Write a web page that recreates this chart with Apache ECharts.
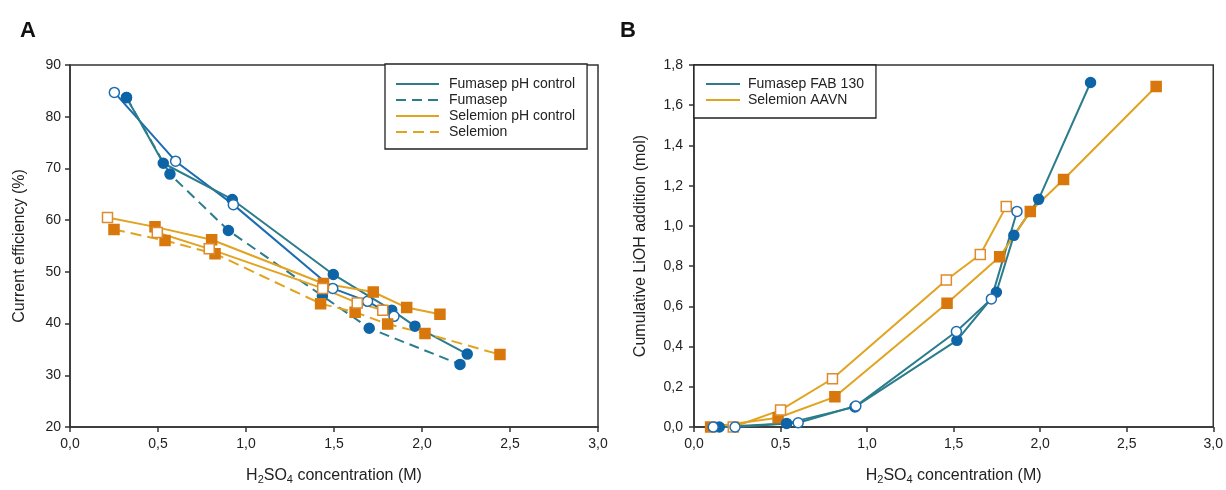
<!DOCTYPE html>
<html>
<head>
<meta charset="utf-8">
<script src="https://cdn.jsdelivr.net/npm/echarts@6/dist/echarts.min.js"></script>
<style>
html,body{margin:0;padding:0;background:#fff;}
#c{width:1226px;height:490px;}
</style>
</head>
<body>
<div id="c"></div>
<script>
// ---------- Panel A: current efficiency (%) vs H2SO4 concentration (M) ----------
const aFumPhOpen = [[0.252,84.7],[0.60,71.4],[0.928,63.0],[1.493,46.8],[1.691,44.3],[1.841,41.4]];
const aFumPh     = [[0.321,83.7],[0.530,71.0],[0.922,64.0],[1.496,49.5],[1.828,42.6],[1.960,39.5],[2.257,34.1]];
const aFum       = [[0.321,83.7],[0.568,68.9],[0.900,58.0],[1.434,45.35],[1.700,39.1],[2.216,32.1]];
const aSelPh     = [[0.213,60.5],[0.483,58.7],[0.805,56.2],[1.440,47.75],[1.723,46.1],[1.913,43.1],[2.102,41.8]];
const aSelPhOpenIdx = [0]; // points of aSelPh drawn as open squares
const aSelPhOpen = [[0.496,57.6],[0.791,54.45],[1.436,46.8],[1.632,44.0],[1.777,42.6]];
const aSel       = [[0.25,58.2],[0.54,56.05],[0.824,53.5],[1.424,43.85],[1.62,42.2],[1.805,39.9],[2.017,38.1],[2.443,34.0]];

// ---------- Panel B: cumulative LiOH addition (mol) vs H2SO4 concentration (M) ----------
const bFumOpen = [[0.111,0],[0.237,0],[0.602,0.021],[0.935,0.104],[1.516,0.475],[1.718,0.637],[1.866,1.072]];
const bFum     = [[0.146,0],[0.535,0.018],[0.93,0.10],[1.519,0.431],[1.747,0.67],[1.848,0.953],[1.991,1.132],[2.291,1.713]];
const bSelOpen = [[0.227,0],[0.50,0.084],[0.80,0.24],[1.458,0.731],[1.654,0.858],[1.804,1.097]];
const bSel     = [[0.096,0],[0.486,0.046],[0.814,0.15],[1.462,0.615],[1.766,0.846],[1.943,1.072],[2.135,1.231],[2.67,1.693]];

// axis ranges / ticks
const xRange = [0, 3, 0.5];
const aYRange = [20, 90, 10];
const bYRange = [0, 1.8, 0.2];

const legendA = ['Fumasep pH control','Fumasep','Selemion pH control','Selemion'];
const legendB = ['Fumasep FAB 130','Selemion AAVN'];

const FONT = 'Liberation Sans, Arial, sans-serif';
const TEAL = '#2b7c8c', BLUE = '#1d6cb2', DOT = '#0d64a7';
const GOLD = '#e2a320', ORANGE = '#d8780c', OBORDER = '#de8a2e';
const comma = v => v.toFixed(1).replace('.', ',');

function lineS(name, data, color, dash, gi) {
  return {type:'line', name:name, data:data, xAxisIndex:gi, yAxisIndex:gi, symbol:'none',
    lineStyle:{color:color, width:2, type:dash || 'solid'}, itemStyle:{color:color},
    z:2, silent:true, animation:false};
}
function markS(data, shape, fill, border, gi) {
  return {type:'scatter', data:data, xAxisIndex:gi, yAxisIndex:gi, symbol:shape, symbolSize:10,
    itemStyle:{color:fill, borderColor:border, borderWidth:1.5, opacity:1}, z:4, silent:true, animation:false};
}
function xAx(gi) {
  return {type:'value', gridIndex:gi, min:xRange[0], max:xRange[1], interval:xRange[2],
    axisLine:{lineStyle:{color:'#333', width:1.5}}, axisTick:{inside:false, length:5, lineStyle:{color:'#333', width:1.5}},
    axisLabel:{color:'#222', fontSize:14, fontFamily:FONT, margin:10, formatter:comma},
    splitLine:{show:false},
    name:'{n|H}{s|2}{n|SO}{s|4}{n| concentration (M)}', nameLocation:'middle', nameGap:39,
    nameTextStyle:{fontFamily:FONT, rich:{n:{fontSize:16, color:'#222', fontFamily:FONT},
      s:{fontSize:11, color:'#222', fontFamily:FONT, padding:[8,0,0,0]}}}};
}
function yAx(gi, r, name, fmt, gap, margin) {
  return {type:'value', gridIndex:gi, min:r[0], max:r[1], interval:r[2],
    axisLine:{show:true, lineStyle:{color:'#333', width:1.5}}, axisTick:{show:true, inside:false, length:5, lineStyle:{color:'#333', width:1.5}},
    axisLabel:{color:'#222', fontSize:14, fontFamily:FONT, margin:margin, formatter:fmt},
    splitLine:{show:false},
    name:name, nameLocation:'middle', nameGap:gap, nameRotate:90,
    nameTextStyle:{fontSize:16, color:'#222', fontFamily:FONT}};
}

const series = [
  // Panel A lines
  lineS('', aFumPhOpen, BLUE, 'solid', 0),
  lineS(legendA[0], aFumPh, TEAL, 'solid', 0),
  lineS(legendA[1], aFum, TEAL, [10,6], 0),
  lineS(legendA[2], aSelPh, GOLD, 'solid', 0),
  lineS('', aSelPhOpen, GOLD, 'solid', 0),
  lineS(legendA[3], aSel, GOLD, [11,6], 0),
  // Panel A markers
  markS(aFum, 'circle', DOT, DOT, 0),
  markS(aFumPh, 'circle', DOT, DOT, 0),
  markS(aFumPhOpen, 'circle', '#fff', BLUE, 0),
  markS(aSel, 'rect', ORANGE, ORANGE, 0),
  markS(aSelPh.filter((p,i) => aSelPhOpenIdx.indexOf(i) < 0), 'rect', ORANGE, ORANGE, 0),
  markS(aSelPh.filter((p,i) => aSelPhOpenIdx.indexOf(i) >= 0).concat(aSelPhOpen), 'rect', '#fff', OBORDER, 0),
  // Panel B lines
  lineS(legendB[0], bFum, TEAL, 'solid', 1),
  lineS('', bFumOpen, TEAL, 'solid', 1),
  lineS(legendB[1], bSel, GOLD, 'solid', 1),
  lineS('', bSelOpen, GOLD, 'solid', 1),
  // Panel B markers
  markS(bSel, 'rect', ORANGE, ORANGE, 1),
  markS(bSelOpen, 'rect', '#fff', OBORDER, 1),
  markS(bFum, 'circle', DOT, DOT, 1),
  markS(bFumOpen, 'circle', '#fff', BLUE, 1)
];

const chart = echarts.init(document.getElementById('c'), null, {renderer:'canvas'});
chart.setOption({
  animation:false,
  backgroundColor:'#fff',
  textStyle:{fontFamily:FONT},
  grid:[
    {left:70, right:628, top:65, bottom:62, show:true, borderColor:'#333', borderWidth:1.5, backgroundColor:'transparent'},
    {left:694, right:12, top:65, bottom:61, show:true, borderColor:'#333', borderWidth:1.5, backgroundColor:'transparent'}
  ],
  xAxis:[xAx(0), xAx(1)],
  yAxis:[
    yAx(0, aYRange, 'Current efficiency (%)', v => String(v), 42, 9),
    yAx(1, bYRange, 'Cumulative LiOH addition (mol)', comma, 45, 11)
  ],
  legend:[
    {data:legendA, orient:'vertical', left:385, top:64, itemWidth:43, itemHeight:14, itemGap:2,
     padding:[13,12,10,10], borderColor:'#222', borderWidth:1.3, backgroundColor:'#fff',
     itemStyle:{opacity:0},
     textStyle:{fontSize:14, color:'#222', fontFamily:FONT, padding:[0,0,0,5]}, selectedMode:false},
    {data:legendB, orient:'vertical', left:694, top:65, itemWidth:34, itemHeight:14, itemGap:2,
     padding:[12,12,11,11], borderColor:'#222', borderWidth:1.3, backgroundColor:'#fff',
     itemStyle:{opacity:0},
     textStyle:{fontSize:14, color:'#222', fontFamily:FONT, padding:[0,0,0,3]}, selectedMode:false}
  ],
  graphic:[
    {type:'text', left:20, top:20, style:{text:'A', font:'bold 22px ' + FONT, fill:'#111'}},
    {type:'text', left:620, top:20, style:{text:'B', font:'bold 22px ' + FONT, fill:'#111'}}
  ],
  series:series
});
</script>
</body>
</html>
